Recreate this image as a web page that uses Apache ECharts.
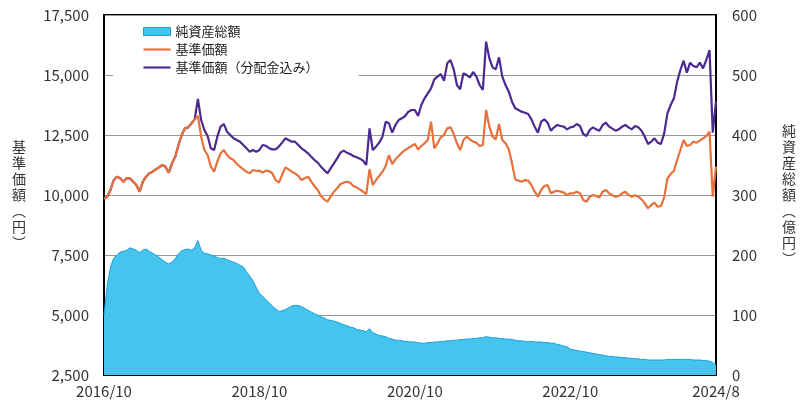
<!DOCTYPE html>
<html>
<head>
<meta charset="utf-8">
<script src="https://cdn.jsdelivr.net/npm/echarts@6/dist/echarts.min.js"></script>
<style>
html,body{margin:0;padding:0;background:#fff;}
#chart{width:801px;height:403px;}
</style>
</head>
<body>
<div id="chart"></div>
<script>
// Semi-monthly categories from 2016/10 to 2024/8
const startYear = 2016, startMonth = 10, monthCount = 95;
const categories = [];
for (let i = 0; i < monthCount; i++) {
  const y = startYear + Math.floor((startMonth - 1 + i) / 12);
  const m = (startMonth - 1 + i) % 12 + 1;
  categories.push(y + '/' + m + '/1');
  categories.push(y + '/' + m + '/16');
}
const xTickLabels = ['2016/10', '2018/10', '2020/10', '2022/10', '2024/8'];
const leftTicks = [2500, 5000, 7500, 10000, 12500, 15000, 17500];
const rightTicks = [0, 100, 200, 300, 400, 500, 600];

// 純資産総額 (億円)
const netAssets = [
  100,150,180,195,200,205,206,208,212,210,
  208,204,208,210,206,203,200,196,192,188,
  185,188,194,202,207,209,210,208,212,224,
  208,203,202,200,198,196,194,195,192,190,
  188,186,183,180,172,165,157,146,136,131,
  126,120,115,110,106,107,109,112,115,116,
  116,114,111,108,105,102,100,97,95,92,
  91,90,88,86,84,82,80,79,76,75,
  74,72,77,71,68,66,65,64,61,60,
  58,58,57,56,56,55,55,54,53,53,
  54,54,55,55,56,56,57,57,58,58,
  59,59,60,60,61,61,62,62,64,63,
  62,62,61,61,60,60,59,58,57,57,
  56,56,56,55,55,55,54,54,53,53,
  51,50,48,47,43,42,41,40,39,38,
  37,36,35,34,33,32,31,31,30,30,
  29,29,28,28,27,27,26,26,25,25,
  25,25,25,25,26,26,26,26,26,26,
  26,26,25,25,25,24,24,23,21,16
];

// 基準価額 (円)
const nav = [
  9850,9930,10208,10625,10764,10694,10555,10694,10694,10555,
  10416,10139,10555,10764,10902,10972,11069,11153,11250,11180,
  10930,11319,11597,12083,12500,12777,12819,12986,13152,13291,
  12430,11875,11666,11180,10972,11389,11736,11875,11666,11527,
  11458,11291,11180,11069,10972,10902,11041,10999,11014,10930,
  11014,11000,10900,10625,10514,10833,11152,11069,10972,10902,
  10791,10625,10694,10764,10555,10375,10208,9958,9819,9722,
  9930,10139,10277,10458,10514,10555,10514,10375,10319,10236,
  10139,10041,11069,10416,10625,10791,10972,11208,11666,11291,
  11486,11625,11763,11875,11958,12041,12125,11902,12041,12152,
  12291,13055,11944,12152,12402,12500,12777,12819,12541,12152,
  11875,12291,12430,12319,12222,12180,12041,12083,13541,12847,
  12430,12319,12958,12291,12152,11902,11319,10652,10597,10555,
  10625,10597,10416,10139,9930,10208,10375,10416,10069,10139,
  10180,10139,10097,9999,10069,10069,10139,10069,9791,9722,
  9930,9999,9958,9902,10139,10208,10069,9986,9930,9958,
  10069,10139,9999,9930,9986,9930,9819,9652,9444,9583,
  9680,9513,9541,9902,10694,10875,11014,11458,11875,12291,
  12041,12083,12222,12180,12263,12361,12458,12638,9930,11180
];

// 基準価額（分配金込み） (円)
const navWithDiv = [
  9850,9930,10208,10625,10764,10694,10555,10694,10694,10555,
  10416,10139,10555,10764,10902,10972,11069,11153,11250,11180,
  10930,11319,11597,12083,12500,12777,12819,12986,13152,14000,
  13125,12708,12458,11944,11875,12430,12847,12958,12638,12500,
  12361,12291,12222,12083,11944,11805,11875,11805,11875,12083,
  12050,11950,11900,11902,12014,12180,12361,12291,12222,12222,
  12083,11944,11847,11736,11597,11458,11347,11180,11041,10902,
  11111,11319,11527,11763,11847,11763,11708,11625,11569,11513,
  11430,11250,12777,11875,12014,12180,12430,13055,12986,12597,
  12916,13125,13194,13291,13472,13541,13541,13291,13750,14027,
  14236,14444,14819,14930,15041,14763,15486,15625,15236,14583,
  14402,15069,14999,14902,15125,14930,14583,14375,16389,15694,
  15319,15236,15736,14930,14583,14305,13888,13611,13541,13472,
  13430,13375,13152,12847,12597,13055,13152,13013,12680,12819,
  12916,12875,12847,12736,12819,12847,12958,12875,12541,12458,
  12708,12819,12736,12680,12916,13013,12847,12763,12680,12736,
  12847,12916,12819,12736,12875,12819,12680,12430,12125,12222,
  12361,12180,12125,12569,13402,13750,14027,14722,15208,15597,
  15097,15514,15375,15319,15514,15277,15625,16041,12600,13900
];

const lastIdx = categories.length - 1;
const labelIdx = xTickLabels.map((lab, i) => {
  if (i === xTickLabels.length - 1) return lastIdx;
  return categories.indexOf(lab + '/1');
});

const FONT = '"Noto Sans CJK JP", "Noto Sans", sans-serif';
const LINE_ICON = 'path://M0,0H30V2.4H0Z';
const chart = echarts.init(document.getElementById('chart'), null, {renderer: 'canvas'});
chart.setOption({
  animation: false,
  backgroundColor: '#fff',
  textStyle: {fontFamily: FONT},
  grid: {left: 104, right: 85, top: 15, bottom: 28, show: true, borderColor: '#000', borderWidth: 2, backgroundColor: 'transparent'},
  legend: {
    orient: 'vertical', left: 113, top: 20,
    padding: [5, 40, 4, 30], itemGap: 5,
    itemWidth: 27, itemHeight: 8,
    backgroundColor: '#fff',
    textStyle: {fontSize: 13, color: '#222', fontFamily: FONT},
    data: [
      {name: '純資産総額', icon: 'rect', itemStyle: {color: '#45C5EE', borderColor: '#1E9ED8', borderWidth: 1}},
      {name: '基準価額', icon: LINE_ICON, itemStyle: {color: '#E8703A'}},
      {name: '基準価額（分配金込み）', icon: LINE_ICON, itemStyle: {color: '#4B2991'}}
    ]
  },
  xAxis: {
    type: 'category', data: categories, boundaryGap: false,
    axisLine: {lineStyle: {color: '#000', width: 2}},
    axisTick: {show: true, inside: true, length: 4, lineStyle: {color: '#000', width: 2},
      interval: (i) => i > 0 && i < lastIdx && i % 24 === 0},
    axisLabel: {
      interval: (i) => labelIdx.indexOf(i) >= 0,
      formatter: (v, i) => { const p = v.split('/'); return p[0] + '/' + p[1]; },
      fontSize: 15, color: '#333', margin: 9, fontFamily: FONT
    },
    splitLine: {show: false}
  },
  yAxis: [
    {
      type: 'value', min: leftTicks[0], max: leftTicks[leftTicks.length - 1], interval: 2500,
      position: 'left',
      name: '基\n準\n価\n額\n︵\n円\n︶', nameLocation: 'middle', nameRotate: 0, nameGap: 78,
      nameTextStyle: {fontSize: 14, lineHeight: 16, color: '#333', fontFamily: FONT, padding: [0, 0, 10, 0]},
      axisLine: {show: true, lineStyle: {color: '#000', width: 2}},
      axisTick: {show: false},
      axisLabel: {formatter: (v) => v.toLocaleString('en-US'), fontSize: 15, color: '#333', margin: 15, fontFamily: FONT},
      splitLine: {show: true, lineStyle: {color: '#999', width: 1}}
    },
    {
      type: 'value', min: rightTicks[0], max: rightTicks[rightTicks.length - 1], interval: 100,
      position: 'right',
      name: '純\n資\n産\n総\n額\n︵\n億\n円\n︶', nameLocation: 'middle', nameRotate: 0, nameGap: 66,
      nameTextStyle: {fontSize: 14, lineHeight: 16, color: '#333', fontFamily: FONT},
      axisLine: {show: true, lineStyle: {color: '#000', width: 2}},
      axisTick: {show: false},
      axisLabel: {fontSize: 15, color: '#333', margin: 16, fontFamily: FONT},
      splitLine: {show: false}
    }
  ],
  series: [
    {
      name: '純資産総額', type: 'line', yAxisIndex: 1, data: netAssets,
      symbol: 'none', z: 1,
      lineStyle: {color: '#1E9ED8', width: 1},
      itemStyle: {color: '#45C5EE'},
      areaStyle: {color: '#45C5EE', opacity: 1}
    },
    {
      name: '基準価額（分配金込み）', type: 'line', yAxisIndex: 0, data: navWithDiv,
      symbol: 'none', z: 2,
      lineStyle: {color: '#4B2991', width: 2.2},
      itemStyle: {color: '#4B2991'}
    },
    {
      name: '基準価額', type: 'line', yAxisIndex: 0, data: nav,
      symbol: 'none', z: 3,
      lineStyle: {color: '#E8703A', width: 2.2},
      itemStyle: {color: '#E8703A'}
    }
  ]
});
</script>
</body>
</html>
